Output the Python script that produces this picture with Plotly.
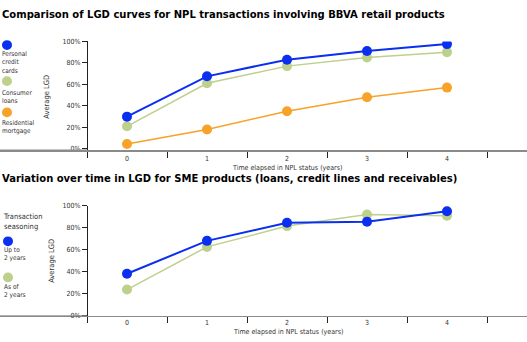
import plotly.graph_objects as go

W, H = 527, 342

years = [0, 1, 2, 3, 4]
year_labels = ["0", "1", "2", "3", "4"]
pct_ticks = [0, 20, 40, 60, 80, 100]
pct_labels = ["0%", "20%", "40%", "60%", "80%", "100%"]

# Top chart: retail products
top_names = ["Personal<br>credit<br>cards", "Consumer<br>loans", "Residential<br>mortgage"]
personal_credit_cards = [30, 67.5, 83, 91, 97.5]
consumer_loans = [21, 61, 77, 85, 90]
residential_mortgage = [4.5, 18, 35, 48, 57]

# Bottom chart: SME products
bottom_names = ["Up to<br>2 years", "As of<br>2 years"]
up_to_2_years = [38, 68, 84.5, 85.5, 95]
as_of_2_years = [23.5, 62.5, 81.5, 92, 91]

title_top = "Comparison of LGD curves for NPL transactions involving BBVA retail products"
title_bottom = "Variation over time in LGD for SME products (loans, credit lines and receivables)"
x_title = "Time elapsed in NPL status (years)"
y_title = "Average LGD"
legend_title_bottom = "Transaction<br>seasoning"

BLUE = "#0a2ff0"
GREEN = "#bdd08c"
ORANGE = "#f7a228"
TXT = "#333333"
FONT = "Liberation Sans Narrow, DejaVu Sans Condensed, Arial Narrow, sans-serif"

def py(px):
    return (H - px) / H

def pxx(px):
    return px / W

fig = go.Figure()

def add_series(vals, color, xa, ya, lw):
    fig.add_trace(go.Scatter(
        x=years, y=vals, mode="lines+markers", xaxis=xa, yaxis=ya,
        line=dict(color=color, width=lw),
        marker=dict(color=color, size=10), showlegend=False, hoverinfo="skip"))

add_series(residential_mortgage, ORANGE, "x", "y", 1.5)
add_series(consumer_loans, GREEN, "x", "y", 1.5)
add_series(personal_credit_cards, BLUE, "x", "y", 2)
add_series(as_of_2_years, GREEN, "x2", "y2", 1.5)
add_series(up_to_2_years, BLUE, "x2", "y2", 2)

# x: px 87 -> -0.5, 80 px per unit, domain full width
x0 = -0.5 - 87 / 80
x1 = x0 + W / 80
yaxis_pos = pxx(87)

def xcommon(lw):
    return dict(
        range=[x0, x1], domain=[0, 1], tickmode="array", tickvals=years, ticktext=year_labels,
        ticks="", showgrid=False, zeroline=False, showline=True, linecolor="#8a8a8a", linewidth=lw,
        tickfont=dict(family=FONT, size=7, color=TXT), fixedrange=True,
        minor=dict(tickmode="array", tickvals=[-0.5, 0.5, 1.5, 2.5, 3.5, 4.5], ticks="outside",
                   ticklen=6, tickcolor="#222222", tickwidth=1, showgrid=False),
    )

ycommon = dict(
    tickmode="array", tickvals=pct_ticks, ticktext=pct_labels, ticks="outside", ticklen=5,
    tickcolor="#222222", showgrid=False, zeroline=False, showline=True, linecolor="#222222",
    linewidth=1, tickfont=dict(family=FONT, size=7, color=TXT), anchor="free",
    position=yaxis_pos, fixedrange=True,
)

fig.update_layout(
    width=W, height=H, margin=dict(l=0, r=0, t=0, b=0),
    paper_bgcolor="white", plot_bgcolor="rgba(0,0,0,0)",
    xaxis=dict(**xcommon(2), anchor="y"),
    yaxis=dict(**ycommon, range=[-1.5, 100], domain=[py(150), py(38.3)]),
    xaxis2=dict(**xcommon(1), anchor="y2"),
    yaxis2=dict(**ycommon, range=[-0.5, 100], domain=[py(319.3), py(206.7)]),
)

ann = []
def text(s, x, y, size=8, xanchor="left", yanchor="middle", family=FONT, angle=0, color=TXT):
    ann.append(dict(text=s, x=pxx(x), y=py(y), xref="paper", yref="paper", showarrow=False,
                    xanchor=xanchor, yanchor=yanchor, textangle=angle, align="left",
                    borderpad=0, font=dict(size=size, family=family, color=color)))

text("<b>" + title_top + "</b>", 1, 11, size=10, family="DejaVu Sans", color="#000000")
text("<b>" + title_bottom + "</b>", 1, 179, size=10, family="DejaVu Sans", color="#000000")
text(x_title, 287, 168, size=7, xanchor="center")
text(x_title, 288, 336, size=7, xanchor="center")
text(y_title, 47, 95, size=7.5, xanchor="center", angle=-90)
text(y_title, 52, 263, size=7.5, xanchor="center", angle=-90)

# legends
top_colors = [BLUE, GREEN, ORANGE]
top_marker_y = [42, 79, 111]
top_text_y = [60, 95, 126]
for name, c, my, ty in zip(top_names, top_colors, top_marker_y, top_text_y):
    fig.add_shape(type="circle", xref="paper", yref="paper", x0=pxx(2), x1=pxx(12),
                  y0=py(my + 5), y1=py(my - 5), fillcolor=c, line=dict(width=0))
    text(name, 1, ty, size=6.5)

text(legend_title_bottom, 2, 222.5, size=7.5)
bot_colors = [BLUE, GREEN]
bot_marker_y = [243, 280]
bot_text_y = [256, 293.5]
for name, c, my, ty in zip(bottom_names, bot_colors, bot_marker_y, bot_text_y):
    fig.add_shape(type="circle", xref="paper", yref="paper", x0=pxx(3), x1=pxx(13),
                  y0=py(my + 5), y1=py(my - 5), fillcolor=c, line=dict(width=0))
    text(name, 3, ty, size=6.5)

# full-width axis baselines extending to the left edge
for yl, lw in ((150, 2), (319.3, 1)):
    fig.add_shape(type="line", xref="paper", yref="paper", x0=0, x1=pxx(87),
                  y0=py(yl), y1=py(yl), line=dict(color="#8a8a8a", width=lw))

fig.update_layout(annotations=ann)
fig.write_html("out.html")
